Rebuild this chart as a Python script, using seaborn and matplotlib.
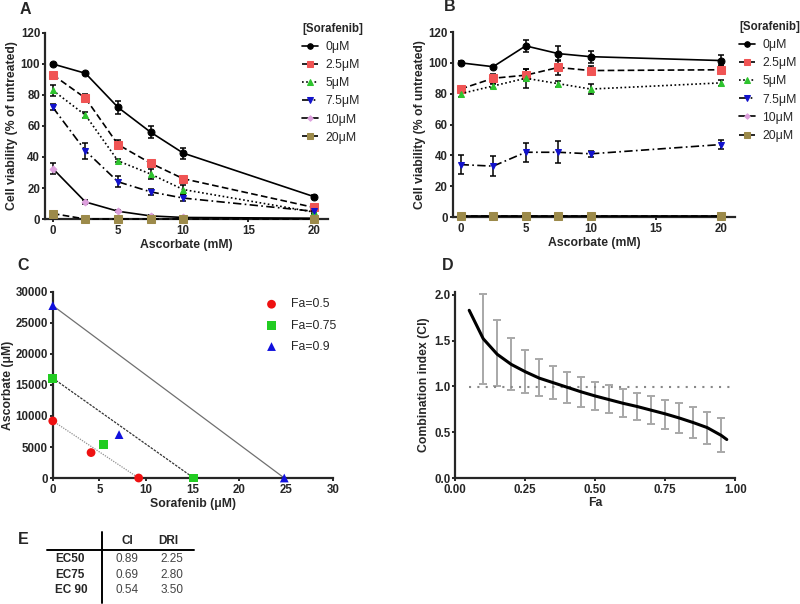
import numpy as np
import pandas as pd
import matplotlib
matplotlib.use('Agg')
import matplotlib.pyplot as plt
from matplotlib.lines import Line2D
import seaborn as sns

sns.set_style('ticks')
plt.rcParams['font.family'] = ['Liberation Sans', 'DejaVu Sans']
plt.rcParams.update({
    'axes.linewidth': 1.6,
    'xtick.major.width': 1.4,
    'ytick.major.width': 1.4,
    'xtick.major.size': 2.5,
    'ytick.major.size': 2.5,
    'xtick.major.pad': 1.5,
    'ytick.major.pad': 1.0,
    'xtick.labelsize': 8.3,
    'ytick.labelsize': 8.3,
    'axes.labelsize': 8.8,
    'axes.labelweight': 'bold',
})

# ---- data ----
asc = [0, 2.5, 5, 7.5, 10, 20]
sora_labels = ['0μM', '2.5μM', '5μM', '7.5μM', '10μM', '20μM']

a_mean = [
    [100, 94, 72, 56, 42.5, 14.5],
    [93, 78, 48, 36, 26, 7.5],
    [83, 67, 37.5, 29, 19, 4.5],
    [72, 44, 24, 17.5, 13.5, 5],
    [32.5, 11, 5, 2, 1, 0.5],
    [3.5, 0, 0, 0, 0, 0],
]
a_err = [
    [0.5, 0.5, 4, 4, 3.5, 1],
    [2, 2.5, 3, 2, 2, 1],
    [3.5, 2, 1, 3.5, 3, 1],
    [2, 5, 3.5, 2, 2, 1],
    [3.5, 1.5, 0.5, 0.5, 0.5, 0.5],
    [0.5, 0.3, 0.3, 0.3, 0.3, 0.3],
]
b_mean = [
    [100, 97.5, 111, 106, 104, 101.5],
    [83, 90, 92, 97, 95, 95.5],
    [80, 85, 90, 86.5, 83, 87],
    [34, 33, 42, 42, 41, 47],
    [0.5, 0.5, 0.5, 0.5, 0.5, 0.5],
    [0.5, 0.5, 0.5, 0.5, 0.5, 0.5],
]
b_err = [
    [1, 0.5, 4, 5, 4, 3.5],
    [1, 3, 4, 5, 3, 3],
    [2, 1.5, 6, 2, 3, 2],
    [6, 6.5, 6, 7, 2, 3],
    [0.3, 0.3, 0.3, 0.3, 0.3, 0.3],
    [0.3, 0.3, 0.3, 0.3, 0.3, 0.3],
]

# isobologram
fa_labels = ['Fa=0.5', 'Fa=0.75', 'Fa=0.9']
iso_sora = [[0, 4.1, 9.2], [0, 5.4, 15.1], [0, 7.1, 24.8]]
iso_asc = [[9200, 4100, 0], [16100, 5400, 0], [27800, 7000, 0]]

# CI vs Fa
fa_curve = [0.05, 0.1, 0.15, 0.2, 0.25, 0.3, 0.35, 0.4, 0.45, 0.5,
            0.55, 0.6, 0.65, 0.7, 0.75, 0.8, 0.85, 0.9, 0.95, 0.97]
ci_curve = [1.83, 1.52, 1.35, 1.24, 1.16, 1.09, 1.04, 0.99, 0.94, 0.895,
            0.855, 0.815, 0.78, 0.74, 0.70, 0.655, 0.605, 0.55, 0.465, 0.42]
fa_err = [0.1, 0.15, 0.2, 0.25, 0.3, 0.35, 0.4, 0.45, 0.5, 0.55,
          0.6, 0.65, 0.7, 0.75, 0.8, 0.85, 0.9, 0.95]
ci_lo = [1.03, 1.0, 0.96, 0.93, 0.89, 0.86, 0.82, 0.78, 0.74, 0.71,
         0.67, 0.63, 0.59, 0.54, 0.49, 0.44, 0.37, 0.28]
ci_hi = [2.01, 1.72, 1.53, 1.40, 1.30, 1.22, 1.16, 1.10, 1.05, 1.01,
         0.97, 0.93, 0.89, 0.85, 0.82, 0.78, 0.72, 0.65]

# table
tbl_rows = ['EC50', 'EC75', 'EC 90']
tbl_ci = ['0.89', '0.69', '0.54']
tbl_dri = ['2.25', '2.80', '3.50']

# ---- styles ----
line_styles = ['-', (0, (4, 2)), (0, (1, 1.5)), (0, (5, 2, 1, 2)), '-', (0, (4, 2))]
markers = ['o', 's', '^', 'v', 'D', 's']
mcolors = ['black', '#F05454', '#2EC42E', '#1212CC', '#DDA0DD', '#9C8A4A']
msizes = [5, 5.5, 5, 5, 3.5, 6]

fig = plt.figure(figsize=(8, 6.04), dpi=100)
axA = fig.add_axes([0.05625, 0.6374, 0.35375, 0.308])
axB = fig.add_axes([0.566, 0.6407, 0.353, 0.3063])
axC = fig.add_axes([0.066, 0.2086, 0.35, 0.308])
axD = fig.add_axes([0.569, 0.2086, 0.35, 0.308])


def viability(ax, means, errs, legend_x, legend_y):
    for i in range(len(means)):
        sns.lineplot(x=asc, y=means[i], ax=ax, color='black', linewidth=1.2,
                     linestyle=line_styles[i], marker=markers[i], markersize=msizes[i],
                     markerfacecolor=mcolors[i], markeredgecolor=mcolors[i],
                     label=sora_labels[i], clip_on=False, zorder=3)
        ax.errorbar(asc, means[i], yerr=errs[i], fmt='none', ecolor='black',
                    elinewidth=1.1, capsize=2.5, capthick=1.1, clip_on=False, zorder=2)
    ax.set_xlim(-0.6, 21.1)
    ax.set_ylim(0, 120)
    ax.set_xticks([0, 5, 10, 15, 20])
    ax.set_yticks([0, 20, 40, 60, 80, 100, 120])
    ax.set_xlabel('Ascorbate (mM)', labelpad=2)
    ax.set_ylabel('Cell viability (% of untreated)', labelpad=2)
    sns.despine(ax=ax)
    for lab in ax.get_xticklabels() + ax.get_yticklabels():
        lab.set_fontweight('bold')
    leg = ax.legend(loc='upper left', bbox_to_anchor=(legend_x, legend_y),
                    bbox_transform=fig.transFigure, frameon=False,
                    title='[Sorafenib]', fontsize=8.8, handlelength=1.3,
                    labelspacing=0.5, handletextpad=0.6, borderaxespad=0,
                    borderpad=0, markerscale=0.8)
    leg.get_title().set_fontweight('bold')
    leg.get_title().set_fontsize(8.3)
    leg._legend_box.align = 'left'


viability(axA, a_mean, a_err, 0.378, 0.962)
viability(axB, b_mean, b_err, 0.924, 0.965)

# ---- C: isobologram ----
iso_colors = ['#EE1111', '#22CC22', '#1111DD']
iso_markers = ['o', 's', '^']
iso_lines = [dict(color='#909090', linestyle=(0, (1, 1)), linewidth=0.9),
             dict(color='#333333', linestyle=(0, (2, 1)), linewidth=0.9),
             dict(color='#707070', linestyle='-', linewidth=0.9)]
for i in range(3):
    sns.lineplot(x=[iso_sora[i][0], iso_sora[i][2]], y=[iso_asc[i][0], iso_asc[i][2]],
                 ax=axC, zorder=1, **iso_lines[i])
for i in range(3):
    sns.scatterplot(x=iso_sora[i], y=iso_asc[i], ax=axC, color=iso_colors[i],
                    marker=iso_markers[i], s=40, edgecolor='none', label=fa_labels[i],
                    clip_on=False, zorder=3)
axC.set_xlim(0, 30)
axC.set_ylim(0, 30000)
axC.set_xticks([0, 5, 10, 15, 20, 25, 30])
axC.set_yticks([0, 5000, 10000, 15000, 20000, 25000, 30000])
axC.set_xlabel('Sorafenib (μM)', labelpad=2)
axC.set_ylabel('Ascorbate (μM)', labelpad=1)
sns.despine(ax=axC)
for lab in axC.get_xticklabels() + axC.get_yticklabels():
    lab.set_fontweight('bold')
axC.legend(loc='upper left', bbox_to_anchor=(0.318, 0.514), bbox_transform=fig.transFigure,
           frameon=False, fontsize=8.8, handletextpad=0.6, labelspacing=0.75,
           borderaxespad=0, markerscale=1.0)

# ---- D: CI vs Fa ----
ci_mid = [ci_curve[fa_curve.index(f)] for f in fa_err]
lo = [m - l for m, l in zip(ci_mid, ci_lo)]
hi = [h - m for m, h in zip(ci_mid, ci_hi)]
axD.errorbar(fa_err, ci_mid, yerr=[lo, hi], fmt='none', ecolor='#A8A8A8',
             elinewidth=1.4, capsize=3, capthick=1.4, clip_on=False, zorder=1)
sns.lineplot(x=[0.05, 1.0], y=[0.99, 0.99], ax=axD, color='#888888',
             linestyle=(0, (1, 3)), linewidth=1.5, zorder=1)
sns.lineplot(x=fa_curve, y=ci_curve, ax=axD, color='black', linewidth=2.2, zorder=3)
axD.set_xlim(0, 1.0)
axD.set_ylim(0, 2.03)
axD.set_xticks([0, 0.25, 0.5, 0.75, 1.0])
axD.set_xticklabels(['0.00', '0.25', '0.50', '0.75', '1.00'])
axD.set_yticks([0, 0.5, 1.0, 1.5, 2.0])
axD.set_yticklabels(['0.0', '0.5', '1.0', '1.5', '2.0'])
axD.set_xlabel('Fa', labelpad=1)
axD.set_ylabel('Combination index (CI)', labelpad=3)
sns.despine(ax=axD)
for lab in axD.get_xticklabels() + axD.get_yticklabels():
    lab.set_fontweight('bold')

# ---- panel letters ----
for txt, x, y in [('A', 0.024, 0.984), ('B', 0.555, 0.989), ('C', 0.022, 0.561),
                  ('D', 0.552, 0.561), ('E', 0.022, 0.106)]:
    fig.text(x, y, txt, fontsize=11.5, fontweight='bold', ha='left', va='center')

# ---- E: table ----
fs = 8.5
fig.text(0.159, 1 - 541 / 604, 'CI', fontsize=fs, fontweight='bold', ha='center', va='center')
fig.text(0.211, 1 - 541 / 604, 'DRI', fontsize=fs, fontweight='bold', ha='center', va='center')
for i in range(3):
    y = 1 - (559 + 15.5 * i) / 604
    fig.text(0.069, y, tbl_rows[i], fontsize=fs, fontweight='bold', ha='left', va='center')
    fig.text(0.159, y, tbl_ci[i], fontsize=fs, color='#444444', ha='center', va='center')
    fig.text(0.215, y, tbl_dri[i], fontsize=fs, color='#444444', ha='center', va='center')
fig.add_artist(Line2D([0.059, 0.242], [1 - 550 / 604, 1 - 550 / 604], color='black', lw=1.4))
fig.add_artist(Line2D([0.1275, 0.1275], [1 - 532 / 604, 1 - 603 / 604], color='black', lw=1.4))

fig.savefig('out.png', dpi=100)
